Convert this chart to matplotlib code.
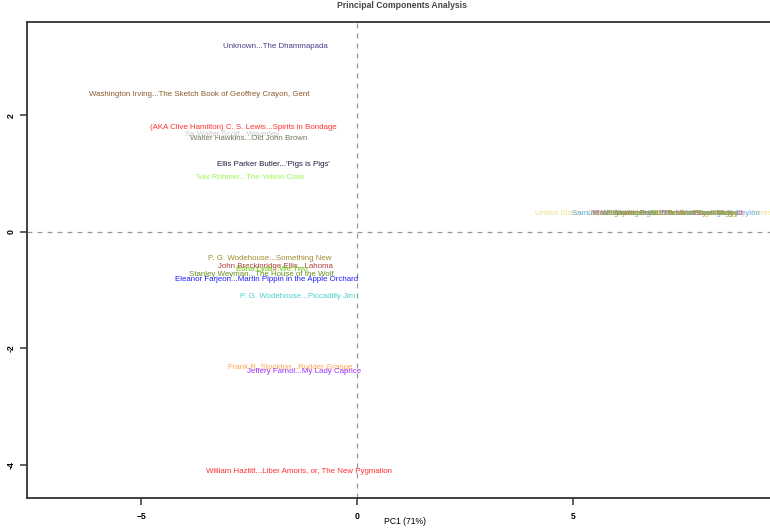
import matplotlib.pyplot as plt

# PCA scores of the book texts (PC1, PC2) and their labels
labels = [
    "Unknown...The Dhammapada",
    "Washington Irving...The Sketch Book of Geoffrey Crayon, Gent",
    "(AKA Clive Hamilton) C. S. Lewis...Spirits in Bondage",
    "Sir Walter Scott...Waverley",
    "Walter Hawkins...Old John Brown",
    "Ellis Parker Butler...'Pigs is Pigs'",
    "Sax Rohmer...The Yellow Claw",
    "United States. Department of the Interior. Geological Survey...Forest Reserves",
    "Samuel W. Baker...Eight Years' Wanderings in Ceylon",
    "Maria Montessori...The Montessori Method",
    "Mabel Dellinger...The Book of Psychology",
    "Sigmund Freud...Dream Psychology",
    "Henry Manville...The Lost Fred Gentry",
    "P. G. Wodehouse...Something New",
    "John Breckinridge Ellis...Lahoma",
    "Edna Lyall...We Two",
    "Stanley Weyman...The House of the Wolf",
    "Eleanor Farjeon...Martin Pippin in the Apple Orchard",
    "P. G. Wodehouse...Piccadilly Jim",
    "Frank R. Stockton...Rudder Grange",
    "Jeffery Farnol...My Lady Caprice",
    "William Hazlitt...Liber Amoris, or, The New Pygmalion",
]
pc1 = [-1.88, -3.65, -2.64, -2.89, -2.52, -1.94, -2.48,
       7.29, 7.15, 7.2, 7.1, 7.25, 7.28,
       -2.01, -1.88, -1.97, -2.22, -2.10, -1.37, -1.55, -1.22, -1.34]
pc2 = [3.18, 2.35, 1.79, 1.67, 1.60, 1.15, 0.93,
       0.31, 0.31, 0.31, 0.31, 0.31, 0.31,
       -0.46, -0.60, -0.64, -0.74, -0.82, -1.12, -2.33, -2.40, -4.12]
colors = ["#483D8B", "#8B5A2B", "#FF3030", "#C8C8C8", "#6E7B5B", "#1C1C3C", "#A2F55A",
          "#EEE08A", "#5CACEE", "#E040C0", "#9AB040", "#C08A30", "#70C060",
          "#A08C2C", "#B0403A", "#66CD00", "#6B8E23", "#2020FF", "#48D1CC", "#FFA54F", "#9B30FF", "#FF3030"]

fig = plt.figure(figsize=(7.7, 5.3), dpi=100)
ax = fig.add_axes([27 / 770, 32 / 530, 750 / 770, 476 / 530])
ax.set_xlim(-7.64, 9.72)
ax.set_ylim(-4.57, 3.6)

ax.axvline(0, color="#999999", linestyle=(0, (4, 4)), linewidth=0.9)
ax.axhline(0, color="#999999", linestyle=(0, (4, 4)), linewidth=0.9)

for lab, x, y, c in zip(labels, pc1, pc2, colors):
    ax.text(x, y, lab, color=c, fontsize=5.7, family="Liberation Sans",
            ha="center", va="center", clip_on=True)

for s in ax.spines.values():
    s.set_color("#333333")
    s.set_linewidth(1.3)

ax.set_xticks([-5, 0, 5])
ax.set_yticks([-4, -2, 0, 2])
ax.tick_params(axis="x", length=5, width=1.1, color="#333333", labelsize=6.2, pad=5)
ax.tick_params(axis="y", length=5, width=1.1, color="#333333", labelsize=6.2, pad=3)
ax.set_yticklabels(["-4", "-2", "0", "2"], rotation=90, va="center")
for t in ax.get_xticklabels() + ax.get_yticklabels():
    t.set_family("Liberation Sans")
    t.set_fontweight("bold")

fig.text(405 / 770, 1 - 521 / 530, "PC1 (71%)", ha="center", va="center",
         fontsize=6.2, family="Liberation Sans")
fig.text(402 / 770, 1 - 6 / 530, "Principal Components Analysis", ha="center", va="center",
         fontsize=6.2, family="Liberation Sans", fontweight="bold", color="#444444")

fig.savefig("out.png", dpi=100)
